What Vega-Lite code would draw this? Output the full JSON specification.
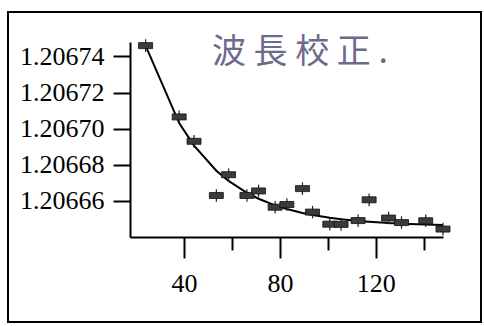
{
  "$schema": "https://vega.github.io/schema/vega-lite/v6.json",
  "width": 473,
  "height": 310,
  "padding": {"left": 8, "top": 12, "right": 3, "bottom": 4},
  "background": "white",
  "config": {
    "view": {"stroke": "black", "strokeWidth": 2},
    "axis": {"grid": false, "domainColor": "black", "tickColor": "black", "labelColor": "black", "domainWidth": 2, "tickWidth": 2, "labelFont": "Liberation Serif", "labelFontSize": 26, "title": null}
  },
  "title": {"text": "波 長 校 正 .", "anchor": "start", "dx": 204, "dy": 62, "font": "Noto Sans CJK JP", "fontSize": 34, "fontWeight": "normal", "color": "#6d6a8c"},
  "data": {"values": [
    {"x": 24, "y": 1.206746, "fit": 1.206746, "err": 0.0000035},
    {"x": 38, "y": 1.2067065, "fit": 1.2067031, "err": 0.0000035},
    {"x": 44.2, "y": 1.206693, "fit": 1.2066906, "err": 0.0000035},
    {"x": 53.5, "y": 1.206663, "fit": 1.2066767, "err": 0.0000035},
    {"x": 58.6, "y": 1.2066745, "fit": 1.2066711, "err": 0.0000035},
    {"x": 66.25, "y": 1.206663, "fit": 1.2066645, "err": 0.0000035},
    {"x": 71.1, "y": 1.2066655, "fit": 1.2066612, "err": 0.0000035},
    {"x": 78, "y": 1.2066565, "fit": 1.2066575, "err": 0.0000035},
    {"x": 82.9, "y": 1.206658, "fit": 1.2066555, "err": 0.0000035},
    {"x": 89.4, "y": 1.2066668, "fit": 1.2066533, "err": 0.0000035},
    {"x": 93.6, "y": 1.2066538, "fit": 1.2066522, "err": 0.0000035},
    {"x": 100.8, "y": 1.2066471, "fit": 1.2066506, "err": 0.0000035},
    {"x": 105.5, "y": 1.206647, "fit": 1.2066498, "err": 0.0000035},
    {"x": 112.6, "y": 1.2066491, "fit": 1.2066489, "err": 0.0000035},
    {"x": 117.2, "y": 1.2066606, "fit": 1.2066484, "err": 0.0000035},
    {"x": 125.3, "y": 1.2066505, "fit": 1.2066477, "err": 0.0000035},
    {"x": 130.7, "y": 1.206648, "fit": 1.2066474, "err": 0.0000035},
    {"x": 140.8, "y": 1.206649, "fit": 1.2066469, "err": 0.0000035},
    {"x": 148, "y": 1.2066444, "fit": 1.2066467, "err": 0.0000035}
  ]},
  "encoding": {
    "x": {
      "field": "x", "type": "quantitative", "title": null,
      "scale": {"domain": [17.5, 148], "range": [122, 435], "nice": false, "zero": false},
      "axis": {
        "values": [40, 60, 80, 100, 120, 140],
        "labelExpr": "datum.value % 40 === 0 ? datum.label : ''",
        "tickSize": {"condition": {"test": "datum.value % 40 === 0", "value": 21}, "value": 13},
        "offset": -85,
        "labelPadding": 12,
        "labelFlush": false
      }
    }
  },
  "layer": [
    {
      "mark": {"type": "line", "color": "black", "strokeWidth": 2},
      "encoding": {
        "y": {
          "field": "fit", "type": "quantitative", "title": null,
          "scale": {"domain": [1.20664, 1.206748], "range": [225, 30], "nice": false, "zero": false},
          "axis": {
            "values": [1.20666, 1.20668, 1.2067, 1.20672, 1.20674],
            "format": ".5f",
            "tickSize": 17,
            "labelPadding": 9,
            "offset": -122
          }
        }
      }
    },
    {
      "mark": {"type": "errorbar", "color": "#222", "thickness": 1.2},
      "encoding": {
        "y": {"field": "y", "type": "quantitative", "title": null},
        "yError": {"field": "err"}
      }
    },
    {
      "mark": {"type": "point", "shape": "M-1,-0.43H1V0.43H-1Z", "size": 196, "filled": true, "fill": "#3b3b3b", "stroke": "#111", "strokeWidth": 0.8, "opacity": 1},
      "encoding": {
        "y": {"field": "y", "type": "quantitative", "title": null}
      }
    }
  ]
}
